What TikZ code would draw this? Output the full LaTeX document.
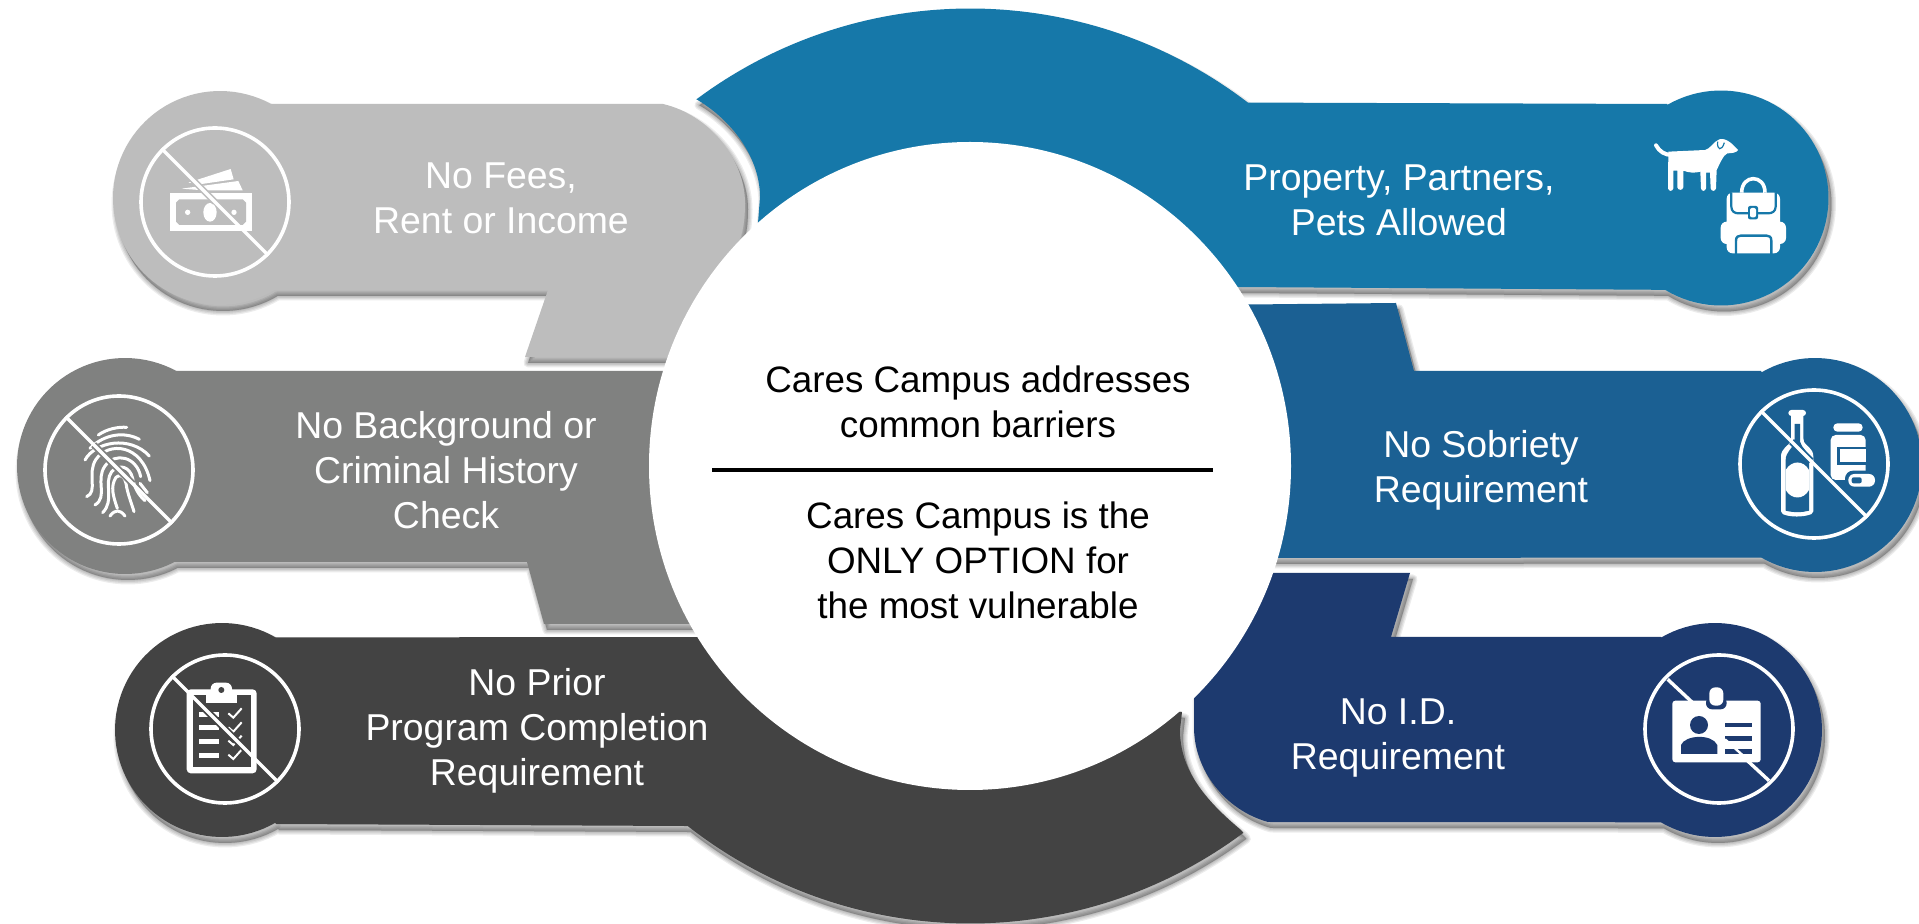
\documentclass[tikz,border=0pt]{standalone}
\usepackage{fontspec}
\setmainfont{Liberation Sans}
\definecolor{cblue}{HTML}{1678A9}
\definecolor{csob}{HTML}{1B6093}
\definecolor{cnavy}{HTML}{1D3A6F}
\definecolor{clight}{HTML}{BDBDBD}
\definecolor{cmid}{HTML}{808180}
\definecolor{cdark}{HTML}{434343}
\newcommand{\arcp}[5]{-- plot[domain=#4:#5,samples=70,variable=\t] ({#1+#3*cos(\t)},{#2+#3*sin(\t)})}
\newcommand{\softshape}[2]{%
  \begin{scope}[shift={(3,6)}]
    \foreach \w in {9,6.5,4,1.5}{\path[fill=black,fill opacity=.075,draw=black,draw opacity=.075,line width=\w*0.5pt,line join=round] #2;}
  \end{scope}
  \fill[#1] #2;}
\tikzset{
  label/.style={text=white,align=center,font=\fontsize{18.7pt}{22.35pt}\selectfont,inner sep=0pt},
  centertext/.style={text=black,align=center,font=\fontsize{18.4pt}{22.5pt}\selectfont,inner sep=0pt},
  ring/.style={circle,draw=white,line width=1.8pt,minimum size=74pt,inner sep=0pt},
  strike/.style={draw=white,line width=1.7pt},
  icon/.style={scale=0.33333},
  ick/.style={draw=white,line width=1.5pt,line cap=round,line join=round}
}
\begin{document}
\begin{tikzpicture}[x=0.5pt,y=-0.5pt]
\useasboundingbox (0,0) rectangle (1919,924);
\clip (0,0) rectangle (1919,924);
\fill[white] (0,0) rectangle (1919,924);
% property
\softshape{cblue}{(696,99) \arcp{970}{466}{457.5}{-126.7}{-52.6} -- (1667,104) \arcp{1721}{198}{107.5}{-119.9}{121.3} -- (1238,287) -- (800,287) -- (758,223) -- (760,197) .. controls (760,160) and (735,122) .. (696,99) -- cycle}
% no fees
\softshape{clight}{(274,290) \arcp{220}{198}{107}{59.6}{298.5} -- (663,104) .. controls (710,115) and (745,160) .. (745,203) .. controls (745,220) and (743,232) .. (738,245) -- (700,357) -- (525,357) -- (548,290) -- cycle}
% no prior
\softshape{cdark}{(1241,830) \arcp{970}{466}{457.5}{53.3}{128.1} -- (276,824) \arcp{222}{730}{107}{60.1}{300.1} -- (720,637) -- (1182,712) -- (1180,730) .. controls (1180,770) and (1205,800) .. (1241,830) -- cycle}
% background check
\softshape{cmid}{(174,562) \arcp{125}{466}{108}{63}{298.2} -- (720,371) -- (700,624) -- (544,624) -- (527,562) -- cycle}
% sobriety
\softshape{csob}{(1200,305) -- (1396,303) -- (1414,371) -- (1761,371) \arcp{1815}{465}{107}{-119.9}{120.1} -- (1200,558) -- cycle}
% id
\softshape{cnavy}{(1200,573) -- (1410,573) -- (1391,637) -- (1661,637) \arcp{1715}{730}{107}{-120.1}{120.4} -- (1268,822) .. controls (1225,810) and (1194,770) .. (1194,727) -- (1194,690) -- (1150,640) -- cycle}
% centre
\fill[white] (970,466) ellipse [x radius=321,y radius=324];
\coordinate (ruleL) at (712,470);
\coordinate (ruleR) at (1213,470);
\draw[black,line width=1.6pt] (ruleL) -- (ruleR);
\node[centertext] (c1) at (978,402) {Cares Campus addresses\\common barriers};
\node[centertext] (c2) at (978,560) {Cares Campus is the\\ONLY OPTION for\\the most vulnerable};
% labels
\node[label] (t1) at (501,198) {No Fees,\\Rent or Income};
\node[label] (t2) at (446,470) {No Background or\\Criminal History\\Check};
\node[label] (t3) at (537,731) {No Prior\\Program Completion\\Requirement};
\node[label] (t4) at (1399,200) {Property, Partners,\\Pets Allowed};
\node[label] (t5) at (1481,470) {No Sobriety\\Requirement};
\node[label] (t6) at (1398,738) {No I.D.\\Requirement};
% rings
\node[ring] (r1) at (215,202) {};
\node[ring] (r2) at (119,470) {};
\node[ring] (r3) at (225,729) {};
\node[ring] (r5) at (1814,464) {};
\node[ring] (r6) at (1719,729) {};
% money
\begin{scope}[shift={(120,110)},icon]
  \fill[white] (150,250) rectangle (395,362);
  \fill[clight] (178,268) -- (368,268) -- (378,278) -- (378,335) -- (368,345) -- (178,345) -- (168,335) -- (168,278) -- cycle;
  \fill[white] (270,307) ellipse [x radius=20,y radius=28];
  \fill[white] (203,307) circle [radius=8];
  \fill[white] (342,307) circle [radius=8];
  \fill[white] (205,218) -- (332,177) -- (341,208) -- (245,222) -- cycle;
  \fill[white] (185,236) -- (355,213) -- (368,241) -- (250,241) -- cycle;
\end{scope}
\draw[clight,line width=3.2pt,shorten >=62pt,shorten <=38pt] (r1.135) -- (r1.-45);
\draw[strike] (r1.135) -- (r1.-45);
% fingerprint
\begin{scope}[shift={(30,380)},icon]
  \draw[ick] (205,165) .. controls (230,147) and (265,140) .. (290,142);
  \draw[ick] (180,205) .. controls (225,160) and (285,155) .. (328,178);
  \draw[ick] (165,240) .. controls (195,185) and (300,165) .. (358,228);
  \draw[ick] (170,350) .. controls (205,335) and (170,280) .. (198,238) .. controls (235,185) and (335,190) .. (360,302);
  \draw[ick] (195,375) .. controls (235,350) and (195,300) .. (225,258) .. controls (255,215) and (320,230) .. (332,290);
  \draw[ick] (218,398) .. controls (255,360) and (220,310) .. (245,275) .. controls (268,250) and (300,260) .. (308,295) .. controls (312,320) and (325,345) .. (345,362);
  \draw[ick] (262,385) .. controls (250,350) and (240,320) .. (258,292) .. controls (270,280) and (285,290) .. (288,310) .. controls (292,340) and (305,370) .. (312,395);
  \draw[ick] (330,310) -- (352,338);
  \draw[ick] (240,408) .. controls (255,388) and (270,388) .. (285,408);
\end{scope}
\draw[cmid,line width=3.4pt,shorten >=28pt,shorten <=20pt] (r2.135) -- (r2.-45);
\draw[strike] (r2.135) -- (r2.-45);
% clipboard
\begin{scope}[shift={(130,650)},icon]
  \fill[white,rounded corners=2pt] (170,118) rectangle (380,370);
  \fill[cdark] (190,135) rectangle (362,350);
  \fill[white] (228,128) rectangle (322,158);
  \fill[white,rounded corners=3pt] (242,98) rectangle (306,140);
  \fill[cdark] (274,120) circle [radius=9];
  \foreach \y in {186,225,267,309}{\fill[white] (207,\y) rectangle (267,\y+15);}
  \foreach \y in {0,42,82,124}{\draw[white,line width=1pt,line join=miter] (295,190+\y) -- (310,203+\y) -- (335,175+\y);}
\end{scope}
\draw[cdark,line width=3.4pt,shorten >=22pt,shorten <=20pt] (r3.135) -- (r3.-45);
\draw[strike] (r3.135) -- (r3.-45);
% id card
\begin{scope}[shift={(1630,650)},icon]
  \draw[strike] (113,88) -- (190,160);
  \draw[strike] (350,330) -- (417,392);
  \fill[white,rounded corners=1.5pt] (127,152) rectangle (392,337);
  \fill[cnavy,rounded corners=3pt] (228,140) rectangle (290,178);
  \fill[white,rounded corners=3pt] (238,112) rectangle (280,167);
  \fill[cnavy] (207,225) circle [radius=27];
  \fill[cnavy] (153,312) -- (153,285) .. controls (165,255) and (245,250) .. (262,285) -- (262,312) -- cycle;
  \foreach \y in {218,258,298}{\fill[cnavy] (285,\y) rectangle (365,\y+14);}
  \draw[white,line width=1.2pt] (285,268) -- (345,322);
\end{scope}
% bottle and jar
\begin{scope}[shift={(1720,380)},icon]
  \fill[white,rounded corners=1.5pt] (205,90) rectangle (258,108);
  \fill[white,rounded corners=1pt] (213,100) -- (250,100) -- (250,180) .. controls (255,195) and (280,205) .. (280,235) -- (280,400) .. controls (250,412) and (210,412) .. (183,400) -- (183,235) .. controls (183,205) and (208,195) .. (213,180) -- cycle;
  \fill[csob] (224,132) -- (240,132) -- (240,185) .. controls (245,205) and (267,215) .. (267,240) -- (267,392) .. controls (245,398) and (220,398) .. (197,392) -- (197,240) .. controls (197,215) and (219,205) .. (224,185) -- cycle;
  \fill[white] (197,270) .. controls (215,240) and (250,240) .. (267,270) -- (267,330) .. controls (250,360) and (215,360) .. (197,330) -- cycle;
  \fill[white,rounded corners=2pt] (340,130) rectangle (428,155);
  \fill[white,rounded corners=2.5pt] (332,165) rectangle (437,300);
  \fill[csob] (350,200) rectangle (437,255);
  \fill[white] (360,208) rectangle (437,245);
  \fill[csob,rounded corners=4pt] (375,272) rectangle (475,330);
  \fill[white,rounded corners=3pt] (385,282) rectangle (465,320);
  \fill[csob,rounded corners=1pt] (395,292) rectangle (425,310);
\end{scope}
\draw[csob,line width=3.4pt,shorten >=40pt,shorten <=22pt] (r5.135) -- (r5.-45);
\draw[strike] (r5.135) -- (r5.-45);
% dog and backpack
\begin{scope}[shift={(1620,100)},icon]
  \draw[white,line width=2pt,line cap=round] (108,136) .. controls (118,155) and (135,165) .. (155,165);
  \fill[white] (145,155) -- (255,150) .. controls (270,148) and (280,125) .. (298,118) .. controls (320,112) and (340,135) .. (354,150) .. controls (350,158) and (335,160) .. (322,160) .. controls (310,165) and (300,190) .. (290,210) -- (288,265) .. controls (286,275) and (274,275) .. (272,265) -- (270,218) -- (258,218) -- (258,265) .. controls (256,275) and (244,275) .. (243,265) -- (241,215) .. controls (225,220) and (205,218) .. (190,212) -- (190,262) .. controls (188,272) and (174,272) .. (172,262) -- (172,212) -- (160,212) -- (160,265) .. controls (158,275) and (146,275) .. (144,265) -- cycle;
  \draw[cblue,line width=.6pt] (293,125) .. controls (290,150) and (305,155) .. (313,128);
  \draw[white,line width=1.8pt] (365,278) .. controls (365,222) and (435,222) .. (435,278);
  \fill[white,rounded corners=3pt] (320,278) rectangle (480,460);
  \fill[white,rounded corners=3pt] (302,365) rectangle (498,432);
  \draw[cblue,line width=1.1pt,line join=round] (334,278) -- (334,320) .. controls (334,335) and (345,340) .. (355,340) -- (445,340) .. controls (455,340) and (467,335) .. (467,320) -- (467,278);
  \fill[cblue,rounded corners=1pt] (384,318) rectangle (414,358);
  \fill[white,rounded corners=1pt] (390,324) rectangle (408,352);
  \draw[cblue,line width=1.2pt,line join=round] (348,462) -- (348,422) .. controls (348,410) and (355,407) .. (362,407) -- (440,407) .. controls (447,407) and (454,410) .. (454,422) -- (454,462);
\end{scope}
\end{tikzpicture}
\end{document}
